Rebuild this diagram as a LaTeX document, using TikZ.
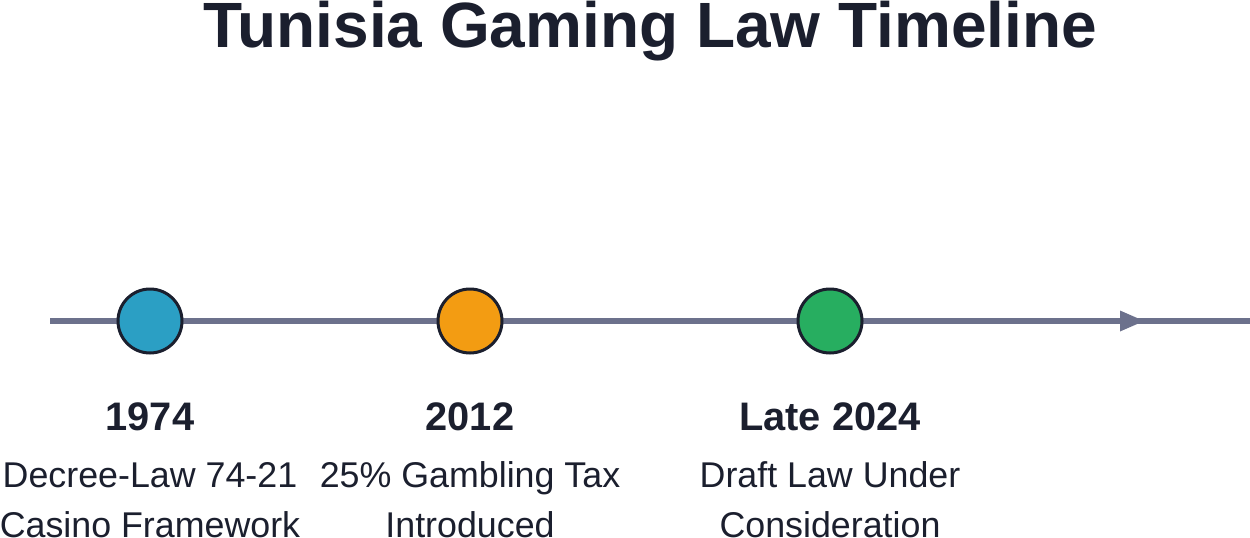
\documentclass[tikz,border=0pt]{standalone}
\usepackage{fontspec}
\setmainfont{Liberation Sans}
\definecolor{ink}{RGB}{27,31,46}
\definecolor{axis}{RGB}{108,113,140}
\definecolor{cblue}{RGB}{43,159,196}
\definecolor{corange}{RGB}{243,156,18}
\definecolor{cgreen}{RGB}{39,174,96}
\begin{document}
\begin{tikzpicture}[x=1pt,y=-1pt,
  dot/.style={circle,draw=ink,line width=3pt,minimum size=64pt,inner sep=0pt},
  year/.style={anchor=base,text=ink,font=\fontsize{39.8}{42}\selectfont\bfseries},
  desc/.style={anchor=base,text=ink,font=\fontsize{35.8}{50}\selectfont,align=center},
  ttl/.style={anchor=base,text=ink,font=\fontsize{64}{72}\selectfont\bfseries}]
\useasboundingbox (0,0) rectangle (1250,538);
\node[ttl] (title) at (650,47) {Tunisia Gaming Law Timeline};
\coordinate (start) at (50,321);
\coordinate (finish) at (1250,321);
\coordinate (tipbase) at (1120,321);
\coordinate (tip) at (1144,321);
\draw[axis,line width=5.3pt] (start) -- (finish);
\fill[axis] ([yshift=-10.5pt]tipbase) -- (tip) -- ([yshift=10.5pt]tipbase) -- cycle;
\node[dot,fill=cblue] (e1) at (150,321) {};
\node[dot,fill=corange] (e2) at (470,321) {};
\node[dot,fill=cgreen] (e3) at (830,321) {};
\node[year] (y1) at (150,430) {1974};
\node[year] (y2) at (470,430) {2012};
\node[year] (y3) at (830,430) {Late 2024};
\node[desc] (d1a) at (150,487) {Decree-Law 74-21};
\node[desc] (d1b) at (150,537) {Casino Framework};
\node[desc] (d2a) at (470,487) {25\% Gambling Tax};
\node[desc] (d2b) at (470,537) {Introduced};
\node[desc] (d3a) at (830,487) {Draft Law Under};
\node[desc] (d3b) at (830,537) {Consideration};
\end{tikzpicture}
\end{document}
